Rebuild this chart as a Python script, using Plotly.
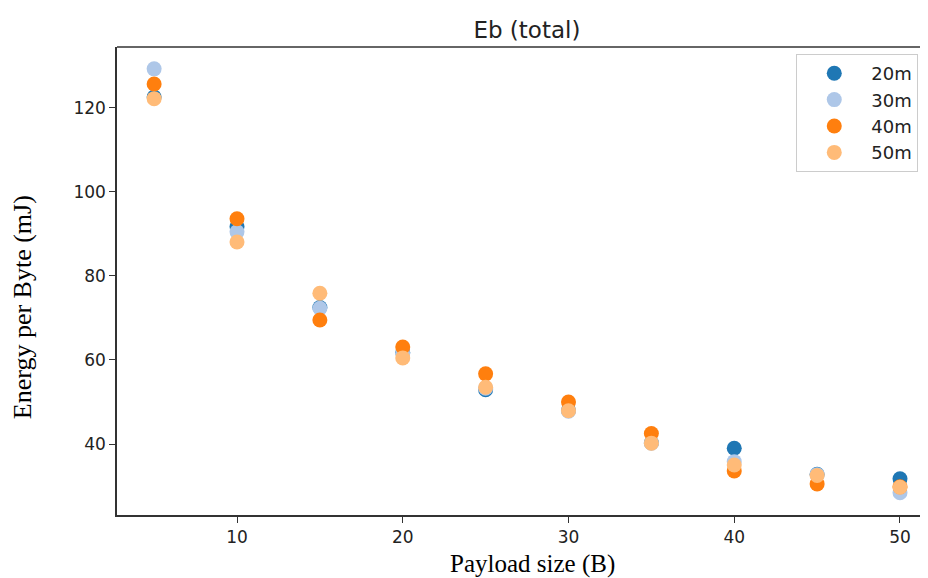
import plotly.graph_objects as go

payload = [5, 10, 15, 20, 25, 30, 35, 40, 45, 50]
series_names = ["20m", "30m", "40m", "50m"]
eb_20m = [122.6, 91.7, 72.5, 61.8, 52.9, 48.0, 40.3, 39.0, 32.8, 31.7]
eb_30m = [129.3, 90.5, 72.3, 61.6, 53.3, 47.8, 40.2, 35.8, 32.7, 28.4]
eb_40m = [125.7, 93.6, 69.5, 63.1, 56.7, 50.0, 42.5, 33.6, 30.5, 29.8]
eb_50m = [122.2, 88.1, 75.9, 60.5, 53.5, 47.9, 40.2, 35.0, 32.5, 29.7]
colors = ["#1f77b4", "#aec7e8", "#ff7f0e", "#ffbb78"]
x_ticks = [10, 20, 30, 40, 50]
y_ticks = [40, 60, 80, 100, 120]

fig = go.Figure()
for name, vals, c in zip(series_names, [eb_20m, eb_30m, eb_40m, eb_50m], colors):
    fig.add_trace(go.Scatter(
        x=payload, y=vals, mode="markers", name=name,
        marker=dict(color=c, size=15, line=dict(width=0)),
    ))

tick_font = dict(family="DejaVu Sans", size=17, color="#222222")
fig.update_layout(
    width=920, height=570,
    margin=dict(l=109, r=0, t=39, b=63),
    paper_bgcolor="white", plot_bgcolor="white",
    title=dict(text="Eb (total)", x=0.564, xanchor="center", y=0.961, yanchor="middle",
               font=dict(family="DejaVu Sans", size=23, color="#222222")),
    showlegend=True,
    legend=dict(x=0.988, y=0.985, xanchor="right", yanchor="top",
                bgcolor="white", bordercolor="#cccccc", borderwidth=1,
                font=dict(family="DejaVu Sans", size=18, color="#222222"),
                itemwidth=64, tracegroupgap=0),
    annotations=[
        dict(text="Energy per Byte (mJ)", xref="paper", yref="paper", x=0, xshift=-95,
             y=0.444, xanchor="center", yanchor="middle", textangle=-90, showarrow=False,
             font=dict(family="Liberation Serif", size=26, color="black")),
        dict(text="Payload size (B)", xref="paper", yref="paper", x=0.512, y=-0.104,
             xanchor="center", yanchor="middle", showarrow=False,
             font=dict(family="Liberation Serif", size=25, color="black")),
    ],
)
fig.update_xaxes(
    range=[2.76, 51.69], tickvals=x_ticks, ticks="outside", ticklen=6, tickwidth=1,
    tickcolor="#333333", showgrid=False, zeroline=False,
    showline=True, linecolor="#333333", linewidth=1.5, mirror=False,
    tickfont=tick_font,
)
fig.update_yaxes(
    range=[23.1, 134.5], tickvals=y_ticks, ticks="outside", ticklen=6, tickwidth=1,
    tickcolor="#333333", showgrid=False, zeroline=False,
    showline=True, linecolor="#333333", linewidth=1.5, mirror=False,
    tickfont=tick_font,
)
# top border line
fig.add_shape(type="line", xref="paper", yref="paper", x0=0, x1=1, y0=1, y1=1,
              line=dict(color="#333333", width=1.5))
fig.write_html("out.html")
